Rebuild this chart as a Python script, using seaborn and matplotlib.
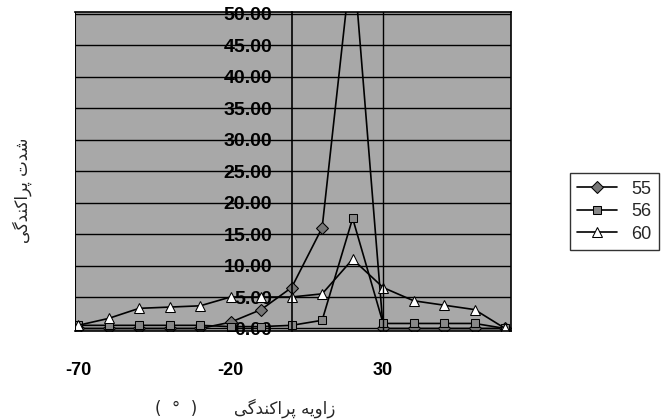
import seaborn as sns
import matplotlib.pyplot as plt
import pandas as pd

# scattering angle (degrees) and intensity for each sample
angle = [-70, -60, -50, -40, -30, -20, -10, 0, 10, 20, 30, 40, 50, 60, 70]
s55 = [0, 0, 0, 0, 0, 1, 3, 6.5, 16, 60, 0, 0, 0, 0, 0]
s56 = [0.5, 0.5, 0.5, 0.5, 0.5, 0.3, 0.3, 0.5, 1.3, 17.5, 0.8, 0.8, 0.8, 0.8, 0]
s60 = [0.5, 1.6, 3.2, 3.4, 3.6, 5, 5, 5, 5.5, 11, 6.5, 4.4, 3.7, 3, 0]
series_names = ['55', '56', '60']
x_ticks = [-70, -20, 30]
y_ticks = [0, 5, 10, 15, 20, 25, 30, 35, 40, 45, 50]

# persian labels written in visual order with presentation forms
y_title = '\ufbfd\ufb94\ufeaa\ufee8\ufb90\ufe8d\ufeae\ufb58 \ufe95\ufeaa\ufeb7'
x_title = '(  \u00b0  )       \ufbfd\ufb94\ufeaa\ufee8\ufb90\ufe8d\ufeae\ufb58 \ufeea\ufbfe\ufeed\ufe8d\ufeaf'

df = pd.DataFrame({'angle': angle, '55': s55, '56': s56, '60': s60})

sns.set_theme(style='white')
plt.rcParams['font.family'] = ['Liberation Sans', 'DejaVu Sans']
plt.rcParams['axes.unicode_minus'] = False

fig = plt.figure(figsize=(6.64, 4.19), dpi=100)
ax = fig.add_axes([0.113, 0.21, 0.657, 0.762])
ax.set_facecolor('#a8a8a8')

styles = {
    '55': dict(marker='D', markersize=6, markerfacecolor='#777777', markeredgecolor='black'),
    '56': dict(marker='s', markersize=6, markerfacecolor='#888888', markeredgecolor='black'),
    '60': dict(marker='^', markersize=7, markerfacecolor='white', markeredgecolor='black'),
}
for name in series_names:
    sns.lineplot(data=df, x='angle', y=name, ax=ax, color='black', linewidth=1.2,
                 label=name, **styles[name])

ax.set_xlim(-71, 72)
ax.set_ylim(-0.4, 50.3)
ax.set_xticks(x_ticks)
ax.set_yticks(y_ticks)
ax.set_yticklabels([f'{v:.2f}' for v in y_ticks])
ax.yaxis.grid(True, color='black', linewidth=1.0)
ax.axvline(30, color='black', linewidth=1.0)
ax.axvline(-71, color='black', linewidth=1.5)

ax.spines['left'].set_position(('data', 0))
for sp in ax.spines.values():
    sp.set_color('black')
    sp.set_linewidth(1.2)
ax.tick_params(axis='y', length=0, pad=14, labelsize=14, labelcolor='black')
ax.tick_params(axis='x', length=0, pad=22, labelsize=13, labelcolor='black')
for lab in ax.get_xticklabels() + ax.get_yticklabels():
    lab.set_fontweight('bold')

ax.set_xlabel('')
ax.set_ylabel('')
fig.text(0.033, 0.545, y_title, rotation=90, ha='center', va='center',
         fontsize=12, family=['DejaVu Sans'])
fig.text(0.37, 0.025, x_title, ha='center', va='center',
         fontsize=12, family=['DejaVu Sans'])

leg = ax.legend(loc='center left', bbox_to_anchor=(0.845, 0.495),
                bbox_transform=fig.transFigure, frameon=True, fancybox=False,
                fontsize=13, handlelength=2.2, borderpad=0.4, labelspacing=0.3)
leg.get_frame().set_edgecolor('black')
leg.get_frame().set_linewidth(1.0)

fig.savefig('out.png', dpi=100)
